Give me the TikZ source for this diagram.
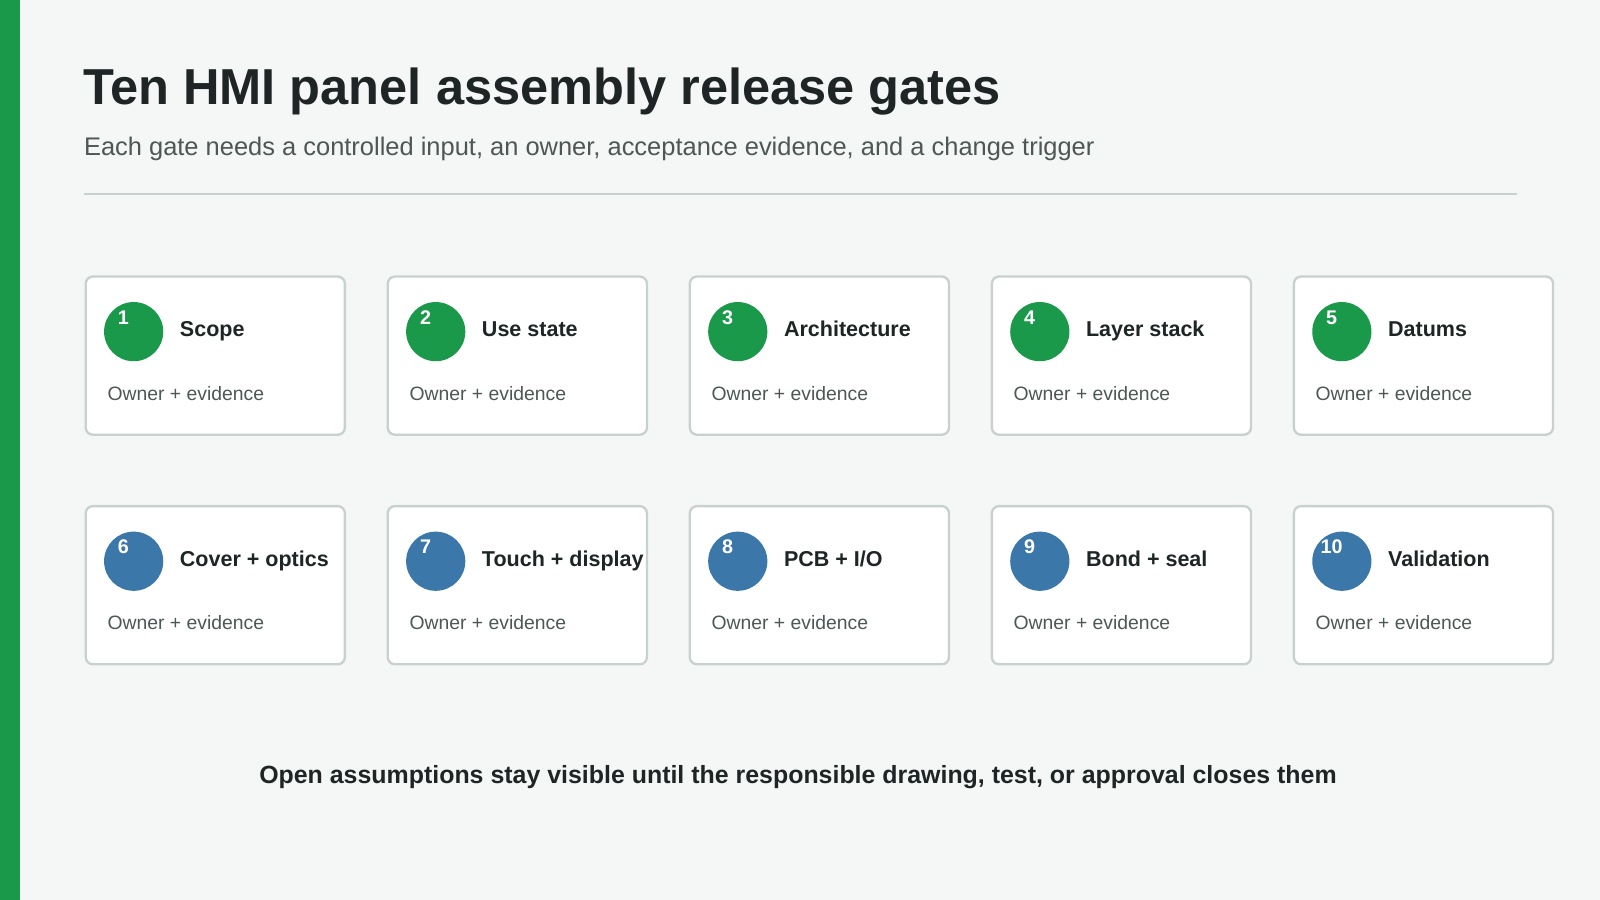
\documentclass[tikz,border=0pt]{standalone}
\usepackage{fontspec}
\setmainfont{Liberation Sans}
\definecolor{gatecard}{HTML}{FFFFFF}
\definecolor{gateedge}{HTML}{C9D1CE}
\definecolor{gategreen}{HTML}{1A994B}
\definecolor{gateblue}{HTML}{3B78A9}
\definecolor{pagebg}{HTML}{F5F7F6}
\definecolor{inkdark}{HTML}{1E2524}
\definecolor{inkgrey}{HTML}{4E5755}
\tikzset{
  card/.style={draw=gateedge, line width=1.3pt, fill=gatecard, rounded corners=4pt},
  badge/.style={circle, minimum size=58*0.02cm, inner sep=0pt},
  num/.style={text=white, font=\bfseries\fontsize{11}{13}\selectfont},
  gatetitle/.style={anchor=base west, inner sep=0pt, text=inkdark, font=\bfseries\fontsize{12}{14}\selectfont},
  gatesub/.style={anchor=base west, inner sep=0pt, text=inkgrey, font=\fontsize{10.8}{13}\selectfont}
}
\begin{document}
\begin{tikzpicture}[x=0.02cm, y=-0.02cm]
\fill[pagebg] (0,0) rectangle (1568,882);
\useasboundingbox (0,0) rectangle (1568,882);
\fill[gategreen] (0,0) rectangle (20,882);
\node[anchor=base west, inner sep=0, text=inkdark, font=\bfseries\fontsize{28.2}{32}\selectfont] (title) at (81,102) {Ten HMI panel assembly release gates};
\node[anchor=base west, inner sep=0, text=inkgrey, font=\fontsize{14.2}{17}\selectfont] (subtitle) at (82,152) {Each gate needs a controlled input, an owner, acceptance evidence, and a change trigger};
\draw[gateedge, line width=1.2pt] (82,190) -- (1487,190);
% gates: x index / row / colour / number / title
\foreach \col/\row/\clr/\n/\lbl in {
  0/0/gategreen/1/Scope, 1/0/gategreen/2/Use state, 2/0/gategreen/3/Architecture,
  3/0/gategreen/4/Layer stack, 4/0/gategreen/5/Datums,
  0/1/gateblue/6/Cover + optics, 1/1/gateblue/7/Touch + display, 2/1/gateblue/8/{PCB + I/O},
  3/1/gateblue/9/Bond + seal, 4/1/gateblue/10/Validation}{
  \begin{scope}[shift={(296*\col,225*\row)}]
    \draw[card] (84,271) rectangle (338,426);
    \node[badge, fill=\clr] (b\n) at (131,325) {};
    \node[num] (n\n) at (121,311) {\n};
    \node[gatetitle] (t\n) at (176,330) {\lbl};
    \node[gatesub] (s\n) at (105,392) {Owner + evidence};
  \end{scope}
}
\node[text=inkdark, font=\bfseries\fontsize{13.9}{16}\selectfont] (footer) at (782,762) {Open assumptions stay visible until the responsible drawing, test, or approval closes them};
\end{tikzpicture}
\end{document}
